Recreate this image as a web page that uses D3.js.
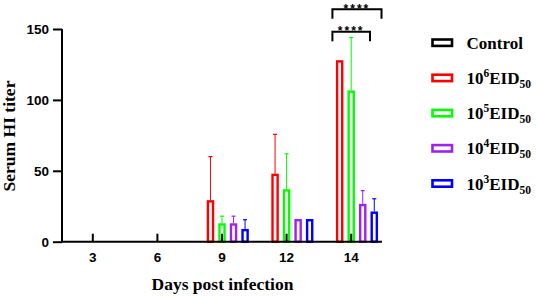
<!DOCTYPE html>
<html><head><meta charset="utf-8">
<script src="https://cdn.jsdelivr.net/npm/d3@7"></script>
<style>body{margin:0;background:#fff}svg{display:block}</style>
</head><body>
<svg id="c" width="536" height="296"></svg>
<script>
const days = ["3","6","9","12","14"];
const series = ["Control","10^6","10^5","10^4","10^3"];
const colors = ["#000000","#FF0000","#00FF00","#A020F0","#0000FF"];
// means per series, per day
const control = [0,0,0,0,0];
const e6 = [0,0,29.3,48,128];
const e5 = [0,0,13,37,106.7];
const e4 = [0,0,13,16,26.7];
const e3 = [0,0,9,16,21.3];
// SD (upper error)
const control_sd = [0,0,0,0,0];
const e6_sd = [0,0,30.7,27.7,0];
const e5_sd = [0,0,5,25,37.3];
const e4_sd = [0,0,5,0,9.3];
const e3_sd = [0,0,6.5,0,9];
const yTicks = [0,50,100,150];
// significance brackets on day 14: [fromSeries, toSeries, level, label]
const brackets = [["10^6","10^3",164,"****"],["10^6","10^4",148,"****"]];

const vals = [control,e6,e5,e4,e3];
const sds = [control_sd,e6_sd,e5_sd,e4_sd,e3_sd];

const svg = d3.select("#c");
const y = d3.scaleLinear().domain([0,150]).range([241.7,29]);
const x0 = d3.scaleBand().domain(days).range([60.5,383.5]).padding(0);
const x1 = d3.scaleBand().domain(series).range([0,x0.bandwidth()]).paddingInner(0.35).paddingOuter(0.475);

// bars
const sw = 2.4;
series.forEach((s,si)=>{
  days.forEach((d,di)=>{
    const v = vals[si][di];
    if(v<=0) return;
    const bx = x0(d)+x1(s);
    const bw = x1.bandwidth();
    const cx = bx+bw/2;
    const sd = sds[si][di];
    if(sd>0){
      svg.append("line").attr("x1",cx).attr("x2",cx).attr("y1",y(v)).attr("y2",y(v+sd))
        .attr("stroke",colors[si]).attr("stroke-width",1);
      svg.append("line").attr("x1",cx-2).attr("x2",cx+2).attr("y1",y(v+sd)).attr("y2",y(v+sd))
        .attr("stroke",colors[si]).attr("stroke-width",1.2);
    }
    svg.append("rect").attr("x",bx+sw/2).attr("y",y(v)+sw/2)
      .attr("width",bw-sw).attr("height",y(0)-y(v)-sw/2)
      .attr("fill","#fff").attr("stroke",colors[si]).attr("stroke-width",sw);
  });
});

// axes
const yAxis = svg.append("g").attr("transform","translate(62,0)")
  .call(d3.axisLeft(y).tickValues(yTicks).tickSize(9).tickPadding(4));
yAxis.select(".domain").attr("d",`M0,${y(150)}V${y(0)}`);
yAxis.selectAll("path,line").attr("stroke","#000").attr("stroke-width",2);
yAxis.selectAll("text").attr("font-family","Liberation Sans, Arial, sans-serif")
  .attr("font-weight","bold").attr("font-size","13.5px").attr("fill","#000");

const xAxis = svg.append("g").attr("transform",`translate(0,${y(0)})`)
  .call(d3.axisBottom(x0).tickSizeInner(-8).tickSizeOuter(0).tickPadding(4));
xAxis.select(".domain").attr("d","M62,0H382");
xAxis.selectAll("path,line").attr("stroke","#000").attr("stroke-width",2);
xAxis.selectAll("text").attr("font-family","Liberation Sans, Arial, sans-serif")
  .attr("font-weight","bold").attr("font-size","13.5px").attr("fill","#000").attr("dy","1.2em");

// axis titles
svg.append("text").attr("x",222.5).attr("y",290).attr("text-anchor","middle")
  .attr("font-family","Liberation Serif, Times New Roman, serif").attr("font-weight","bold")
  .attr("font-size","17.5px").text("Days post infection");
svg.append("text").attr("transform","translate(15,136) rotate(-90)").attr("text-anchor","middle")
  .attr("font-family","Liberation Serif, Times New Roman, serif").attr("font-weight","bold")
  .attr("font-size","17.5px").text("Serum HI titer");

// significance brackets
brackets.forEach(([a,b,lev,lab])=>{
  const xl = x0("14")+x1(a)-3.5;
  const xr = x0("14")+x1(b)+x1.bandwidth()+3.5;
  const yt = y(lev), yb = yt+9.5;
  svg.append("path").attr("d",`M${xl},${yb}V${yt}H${xr}V${yb}`)
    .attr("fill","none").attr("stroke","#000").attr("stroke-width",2);
  svg.append("text").attr("x",(xl+xr)/2).attr("y",yt+3.5).attr("text-anchor","middle")
    .attr("font-family","Liberation Sans, Arial, sans-serif").attr("font-weight","bold")
    .attr("font-size","12px").attr("letter-spacing","2px").text(lab);
});

// legend
const lg = svg.append("g");
series.forEach((s,i)=>{
  const cy = 42.7 + i*35.2;
  lg.append("rect").attr("x",432.5).attr("y",cy-3.2).attr("width",19.5).attr("height",6.4)
    .attr("fill","#fff").attr("stroke",colors[i]).attr("stroke-width",2.6);
  const t = lg.append("text").attr("x",466.5).attr("y",cy+6)
    .attr("font-family","Liberation Serif, Times New Roman, serif").attr("font-weight","bold")
    .attr("font-size","17px").attr("fill","#000");
  if(s==="Control"){ t.text("Control"); }
  else {
    const exp = s.split("^")[1];
    t.append("tspan").text("10");
    t.append("tspan").attr("font-size","11.5px").attr("dy","-7").text(exp);
    t.append("tspan").attr("dy","7").text("EID");
    t.append("tspan").attr("font-size","11.5px").attr("dy","4").text("50");
  }
});
</script>
</body></html>
